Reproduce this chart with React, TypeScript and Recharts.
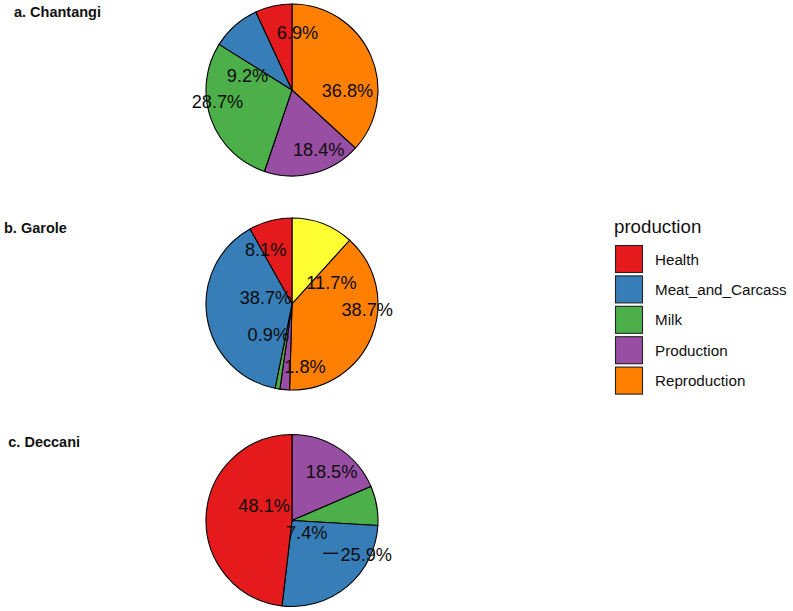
import React from 'react';
import { PieChart, Pie, Cell, Legend } from 'recharts';

// ---- data (clockwise from 12 o'clock, values in %) ----
const chantangiCategories = ['Reproduction', 'Production', 'Milk', 'Meat_and_Carcass', 'Health'];
const chantangiValues = [36.8, 18.4, 28.7, 9.2, 6.9];

const garoleCategories = ['Wool', 'Reproduction', 'Production', 'Milk', 'Meat_and_Carcass', 'Health'];
const garoleValues = [11.7, 38.7, 1.8, 0.9, 38.7, 8.1];

const deccaniCategories = ['Production', 'Milk', 'Meat_and_Carcass', 'Health'];
const deccaniValues = [18.5, 7.4, 25.9, 48.1];

const legendCategories = ['Health', 'Meat_and_Carcass', 'Milk', 'Production', 'Reproduction'];
const legendTitle = 'production';
const panelTitles = ['a. Chantangi', 'b. Garole', 'c. Deccani'];

// ---- styling ----
const COLORS: Record<string, string> = {
  Health: '#E41A1C',
  Meat_and_Carcass: '#377EB8',
  Milk: '#4DAF4A',
  Production: '#984EA3',
  Reproduction: '#FF7F00',
  Wool: '#FFFF33',
};
const FONT = '"Liberation Sans", Arial, Helvetica, sans-serif';

// label layout (repelled labels): [angle deg clockwise from top, radius fraction, leader length]
const chantangiLabelLayout: number[][] = [[90.7, 0.645], [156, 0.764], [261, 0.877], [287.5, 0.542], [5.5, 0.663]];
const garoleLabelLayout: number[][] = [[62, 0.52], [94.4, 0.877], [168.3, 0.744], [217.4, 0.453], [282.1, 0.315], [334, 0.7]];
const deccaniLabelLayout: number[][] = [[39.1, 0.73], [131, 0.227], [114.9, 0.952, 15], [297.5, 0.365]];

const build = (cats: string[], vals: number[]) => cats.map((name, i) => ({ name, value: vals[i] }));
const chantangiData = build(chantangiCategories, chantangiValues);
const garoleData = build(garoleCategories, garoleValues);
const deccaniData = build(deccaniCategories, deccaniValues);

const makeLabel = (layout: number[][]) => (props: any) => {
  const { cx, cy, outerRadius, index, value } = props;
  const [ang, frac, seg] = layout[index];
  const rad = (ang * Math.PI) / 180;
  const x = cx + Math.sin(rad) * frac * outerRadius;
  const y = cy - Math.cos(rad) * frac * outerRadius;
  return (
    <g key={`lbl-${index}`}>
      {seg ? (
        <line x1={x - 28 - seg} y1={y - 1.7} x2={x - 28} y2={y - 1.7} stroke="#000" strokeWidth={1.3} />
      ) : null}
      <text
        x={x}
        y={y}
        textAnchor="middle"
        dominantBaseline="central"
        fontSize={18.2}
        fontFamily={FONT}
        fill="#0d0d0d"
      >
        {`${Number(value).toFixed(1)}%`}
      </text>
    </g>
  );
};

const renderLegend = () => (
  <svg width={193} height={200} style={{ display: 'block' }}>
    <text x={14} y={21.7} dominantBaseline="central" fontSize={18.7} fontFamily={FONT} fill="#111">
      {legendTitle}
    </text>
    {legendCategories.map((c, i) => (
      <g key={c}>
        <rect x={15.5} y={40.5 + i * 30.4} width={27} height={27} fill={COLORS[c]} stroke="#222" strokeWidth={1.1} />
        <text x={55} y={54 + i * 30.4} dominantBaseline="central" fontSize={15.2} fontFamily={FONT} fill="#111">
          {c}
        </text>
      </g>
    ))}
  </svg>
);

const pieCommon = {
  dataKey: 'value',
  nameKey: 'name',
  startAngle: 90,
  endAngle: -270,
  outerRadius: 86,
  stroke: '#000',
  strokeWidth: 1.1,
  labelLine: false,
  isAnimationActive: false,
};

export default function App() {
  return (
    <div style={{ position: 'absolute', left: 0, top: 0, width: 793, height: 611, background: '#fff' }}>
      <PieChart width={793} height={611} margin={{ top: 0, right: 0, bottom: 0, left: 0 }}>
        <Pie {...(pieCommon as any)} data={chantangiData} cx={292} cy={90} label={makeLabel(chantangiLabelLayout)}>
          {chantangiData.map((d) => (
            <Cell key={d.name} fill={COLORS[d.name]} />
          ))}
        </Pie>
        <Pie {...(pieCommon as any)} data={garoleData} cx={292} cy={304} label={makeLabel(garoleLabelLayout)}>
          {garoleData.map((d) => (
            <Cell key={d.name} fill={COLORS[d.name]} />
          ))}
        </Pie>
        <Pie {...(pieCommon as any)} data={deccaniData} cx={292} cy={520.5} label={makeLabel(deccaniLabelLayout)}>
          {deccaniData.map((d) => (
            <Cell key={d.name} fill={COLORS[d.name]} />
          ))}
        </Pie>
        <Legend
          layout="vertical"
          align="right"
          verticalAlign="top"
          content={renderLegend}
          wrapperStyle={{ position: 'absolute', left: 600, top: 205, width: 193, height: 200 }}
        />
      </PieChart>
      <svg
        width={793}
        height={611}
        style={{ position: 'absolute', left: 0, top: 0, pointerEvents: 'none' }}
      >
        {[
          [14, 11.7],
          [4, 227.7],
          [8.3, 442.3],
        ].map(([x, y], i) => (
          <text key={i} x={x} y={y} dominantBaseline="central" fontSize={14.5} fontWeight="bold" fontFamily={FONT} fill="#111">
            {panelTitles[i]}
          </text>
        ))}
      </svg>
    </div>
  );
}
